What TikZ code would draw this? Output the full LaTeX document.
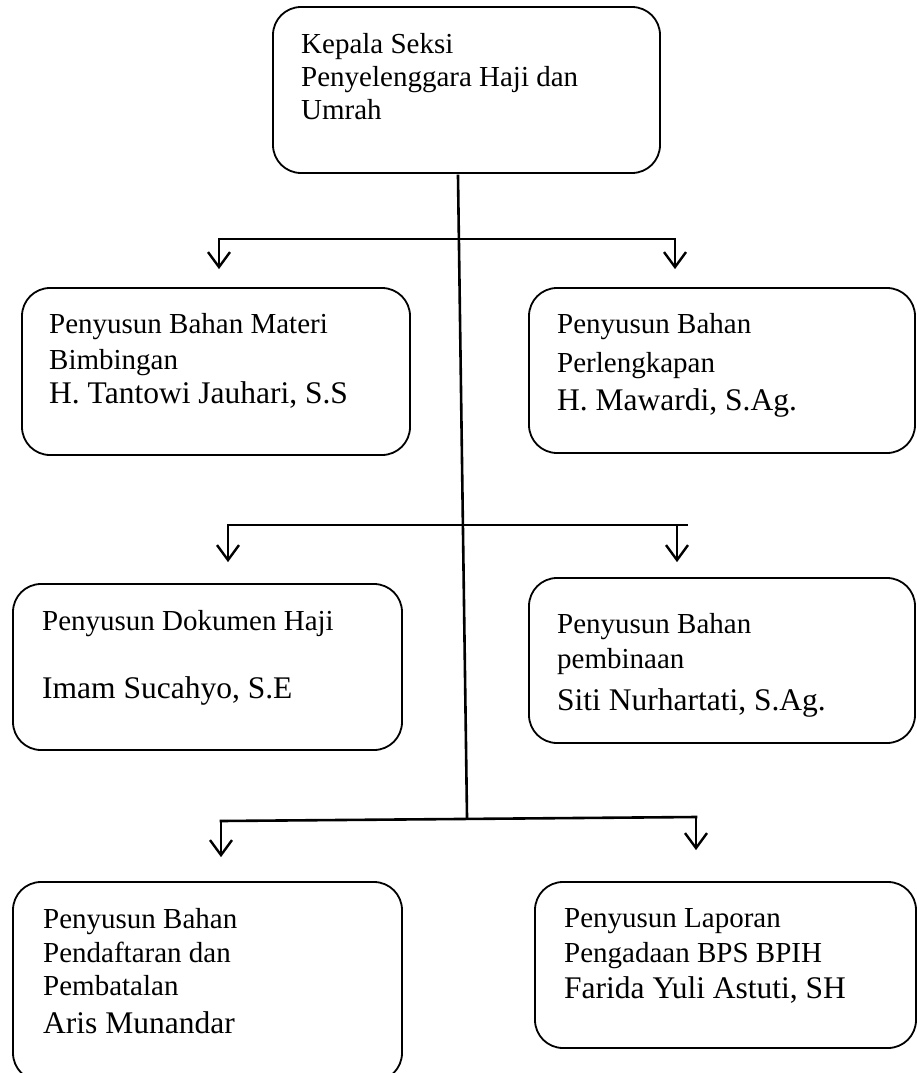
\documentclass[tikz,border=0pt]{standalone}
\usepackage{fontspec}
\setmainfont{Liberation Serif}
\usetikzlibrary{arrows.meta}
\newcommand\pname[1]{{\fontsize{31.5}{34}\selectfont #1}}
\begin{document}
\begin{tikzpicture}[x=1pt,y=-1pt,
  box/.style={draw, line width=1.8pt, rounded corners=28pt, inner sep=0pt},
  lbl/.style={anchor=base west, align=left, inner sep=0pt, font=\fontsize{29}{34}\selectfont},
  conn/.style={line width=2.6pt, line cap=rect},
  arr/.style={line width=2.6pt, -{Straight Barb[length=15pt,width=22pt,line width=2.4pt]}}]
\useasboundingbox (0,0) rectangle (917,1073);
\fill[white] (0,0) rectangle (917,1073);
% boxes
\node[box, minimum width=387pt, minimum height=166pt] (top) at (466.5,90) {};
\node[box, minimum width=388pt, minimum height=167pt] (b1) at (216,371.5) {};
\node[box, minimum width=386pt, minimum height=165pt] (b2) at (722,370.5) {};
\node[box, minimum width=389pt, minimum height=166pt] (b3) at (207.5,667) {};
\node[box, minimum width=386pt, minimum height=165pt] (b4) at (722,660.5) {};
\node[box, minimum width=389pt, minimum height=199pt] (b5) at (207.5,981.5) {};
\node[box, minimum width=381pt, minimum height=166pt] (b6) at (725.5,965) {};
% texts (anchored at the baseline of their last line)
\node[lbl, font=\fontsize{29}{33}\selectfont] (ttop) at (301,119) {Kepala Seksi\\Penyelenggara Haji dan\\Umrah};
\node[lbl] (t1) at (49,403) {Penyusun Bahan Materi\\[2pt]Bimbingan\\\pname{H. Tantowi Jauhari, S.S}};
\node[lbl] (t2) at (557,410) {Penyusun Bahan\\[5pt]Perlengkapan\\[4pt]\pname{H. Mawardi, S.Ag.}};
\node[lbl] (t3) at (42,698) {Penyusun Dokumen Haji\\[34pt]\pname{Imam Sucahyo, S.E}};
\node[lbl] (t4) at (557,710) {Penyusun Bahan\\[1pt]pembinaan\\[8pt]\pname{Siti Nurhartati, S.Ag.}};
\node[lbl] (t5) at (43,1033) {Penyusun Bahan\\Pendaftaran dan\\[-1pt]Pembatalan\\[4pt]\pname{Aris Munandar}};
\node[lbl] (t6) at (564,998) {Penyusun Laporan\\[1pt]Pengadaan BPS BPIH\\[2pt]\pname{Farida Yuli Astuti, SH}};
% junction coordinates
\coordinate (j0) at (458,176);
\coordinate (j3) at (467,817);
\coordinate (h1a) at (219,239);
\coordinate (h1b) at (675,239);
\coordinate (h2a) at (228,525);
\coordinate (h2b) at (687,525);
\coordinate (h2c) at (677,525);
\coordinate (h3a) at (221,821);
\coordinate (h3b) at (696,817);
% trunk
\draw[conn] (j0) -- (j3);
% level 1
\draw[conn] (h1a) -- (h1b);
\draw[arr, shorten >=18pt] (h1a) -- (h1a |- b1.north);
\draw[arr, shorten >=18pt] (h1b) -- (h1b |- b2.north);
% level 2
\draw[conn] (h2a) -- (h2b);
\draw[arr, shorten >=21pt] (h2a) -- (h2a |- b3.north);
\draw[arr, shorten >=15pt] (h2c) -- (h2c |- b4.north);
% level 3
\draw[conn] (h3a) -- (h3b);
\draw[arr, shorten >=24pt] (h3a) -- (h3a |- b5.north);
\draw[arr, shorten >=31pt] (h3b) -- (h3b |- b6.north);
\end{tikzpicture}
\end{document}
